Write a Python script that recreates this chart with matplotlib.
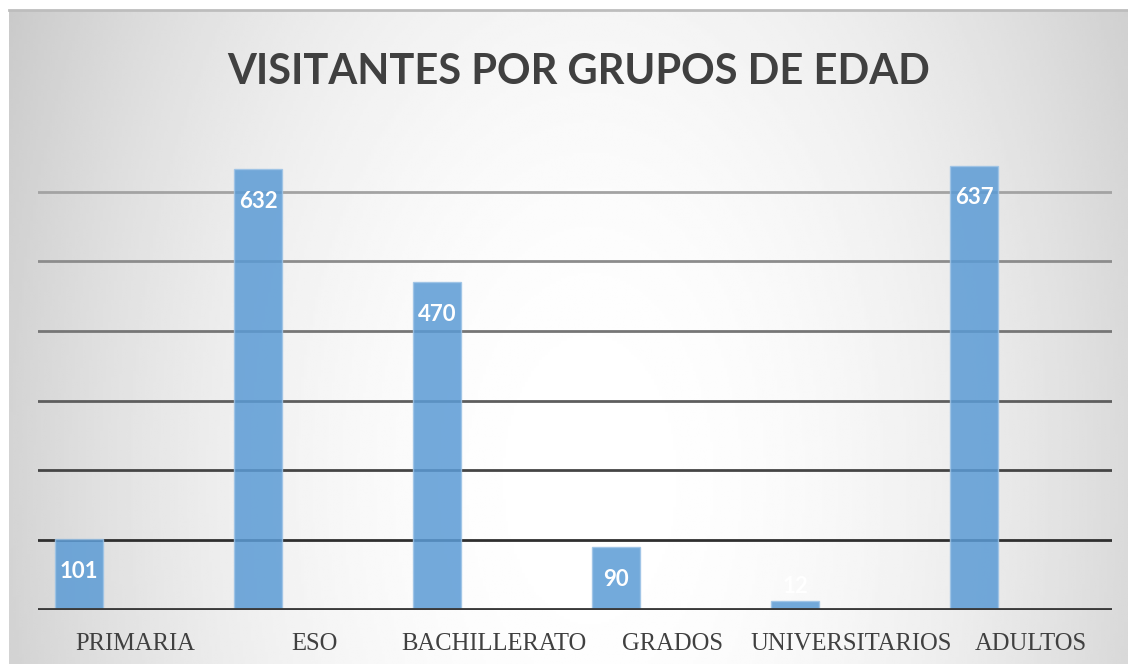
import numpy as np
import matplotlib
matplotlib.use('Agg')
import matplotlib.pyplot as plt
from matplotlib.lines import Line2D
import matplotlib.transforms as mtransforms

# data
categories = ['PRIMARIA', 'ESO', 'BACHILLERATO', 'GRADOS', 'UNIVERSITARIOS', 'ADULTOS']
visitors = [101, 632, 470, 90, 12, 637]
grid_levels = [100, 200, 300, 400, 500, 600]

W, H = 1128, 664
fig = plt.figure(figsize=(W/100, H/100), dpi=100)
fig.patch.set_facecolor('white')

# radial grey background of the chart area
bg = fig.add_axes([9/W, 0, 1 - 9/W, 1 - 10/H])
gx = np.linspace(9, W, 400)
gy = np.linspace(10, H, 240)
XX, YY = np.meshgrid(gx, gy)
d2 = ((XX - 590)/600.0)**2 + ((YY - 480)/1000.0)**2
shade = np.clip(1 - 0.18*d2, 0, 1)
bg.imshow(shade, cmap='gray', vmin=0, vmax=1, aspect='auto',
          extent=[0, 1, 0, 1], origin='upper', interpolation='bilinear')
bg.axis('off')
fig.add_artist(Line2D([9/W, 1], [1 - 10/H, 1 - 10/H], transform=fig.transFigure,
                      color='#bdbdbd', lw=2))

base_y = 609.8
top_y = 122
ax = fig.add_axes([38/W, 1 - base_y/H, 1074/W, (base_y - top_y)/H])
ax.patch.set_alpha(0)

x = np.arange(len(categories))
bar_off = -0.271
bar_w = 0.268

grid_cols = ['#2f2f2f', '#454545', '#5e5e5e', '#767676', '#8c8c8c', '#a3a3a3']
for lvl, c in zip(grid_levels, grid_cols):
  ax.axhline(lvl, color=c, lw=2, zorder=1)

ax.bar(x + bar_off, visitors, width=bar_w, color='#5b9bd5', alpha=0.85,
       edgecolor='#9dc3e6', linewidth=1, zorder=2)
ax.axhline(0, color='#3a3a3a', lw=3.5, zorder=3)

for xi, v in zip(x, visitors):
  ax.text(xi + bar_off, max(v - 46, 33), str(v), ha='center', va='center',
          color='white', fontweight='bold', family='Lato', fontsize=16, zorder=4)

ax.set_xlim(-0.5, len(categories) - 0.5)
ax.set_ylim(0, 700)
ax.set_yticks([])
ax.set_xticks(x)
ax.set_xticklabels(categories, family='Liberation Serif', fontsize=17.7, color='#404040')
ax.tick_params(axis='x', length=0, pad=17)
shift = mtransforms.ScaledTranslation(8/100, 0, fig.dpi_scale_trans)
for lab in ax.get_xticklabels():
  lab.set_transform(lab.get_transform() + shift)
for s in ax.spines.values():
  s.set_visible(False)

fig.text(578.5/W, 1 - 72/H, 'VISITANTES POR GRUPOS DE EDAD', ha='center', va='center',
         fontsize=30, fontweight='bold', family='Lato', color='#404040')

fig.savefig('out.png', dpi=100)
